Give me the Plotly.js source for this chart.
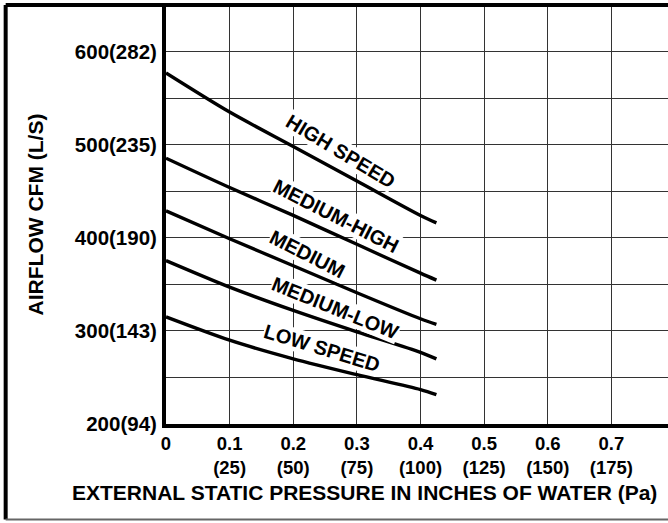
<!DOCTYPE html>
<html><head><meta charset="utf-8">
<script src="https://cdn.plot.ly/plotly-3.0.1.min.js"></script>
<style>html,body{margin:0;padding:0;background:#fff;overflow:hidden}</style>
</head><body><div id="chart" style="width:668px;height:523px"></div>
<script>
// Data
const pressure = [0, 0.1, 0.2, 0.3, 0.4, 0.425];
const highSpeed   = [577, 535, 498, 461, 424, 416];
const mediumHigh  = [485.5, 454, 424, 393, 362, 354.5];
const medium      = [429, 399, 370, 341, 313, 307];
const mediumLow   = [375.5, 347, 322, 299, 277, 270];
const lowSpeed    = [315, 290, 270, 253, 237, 231.5];
const seriesNames = ['HIGH SPEED', 'MEDIUM-HIGH', 'MEDIUM', 'MEDIUM-LOW', 'LOW SPEED'];

const yTickVals = [200, 300, 400, 500, 600];
const yTickText = ['200(94)', '300(143)', '400(190)', '500(235)', '600(282)'];
const xTickVals = [0, 0.1, 0.2, 0.3, 0.4, 0.5, 0.6, 0.7];
const xTickInches = ['0', '0.1', '0.2', '0.3', '0.4', '0.5', '0.6', '0.7'];
const xTickPa = ['', '(25)', '(50)', '(75)', '(100)', '(125)', '(150)', '(175)'];
const xTickText = xTickInches.map((t, i) => xTickPa[i] ? t + '<br>' + xTickPa[i] : t);

const allSeries = [highSpeed, mediumHigh, medium, mediumLow, lowSpeed];
const traces = allSeries.map((ys, i) => ({
  type: 'scatter', mode: 'lines', x: pressure, y: ys, name: seriesNames[i],
  line: {color: '#000', width: 3.4, shape: 'spline', smoothing: 0.8},
  hoverinfo: 'skip', showlegend: false
}));

const FONT = 'Liberation Sans, Arial, sans-serif';
const tickFont = {family: FONT, size: 20.5, color: '#000', weight: 'bold'};
const xTickFont = {family: FONT, size: 18.5, color: '#000', weight: 'bold'};
const labelFont = {family: FONT, size: 20, color: '#000', weight: 'bold'};
const gridColor = '#333';

const layout = {
  width: 668, height: 523,
  margin: {l: 165.5, r: 0, t: 5, b: 98.5},
  paper_bgcolor: '#fff', plot_bgcolor: '#fff',
  showlegend: false,
  xaxis: {
    range: [0, 0.789], tickvals: xTickVals, ticktext: xTickText,
    showgrid: true, gridcolor: gridColor, gridwidth: 1,
    showline: true, linecolor: '#000', linewidth: 4, zeroline: false,
    ticks: '', ticklabelstandoff: 0, tickfont: xTickFont,
    fixedrange: true
  },
  yaxis: {
    range: [200, 650], tickvals: yTickVals, ticktext: yTickText,
    showgrid: true, gridcolor: gridColor, gridwidth: 1,
    minor: {dtick: 50, tick0: 200, showgrid: true, gridcolor: gridColor, gridwidth: 1},
    showline: true, linecolor: '#000', linewidth: 4, zeroline: false,
    ticks: '', ticklabelstandoff: 1, tickfont: tickFont,
    title: {text: 'AIRFLOW CFM (L/S)', font: {family: FONT, size: 21, color: '#000', weight: 'bold'}, standoff: 26},
    fixedrange: true
  },
  shapes: [
    {type: 'line', xref: 'paper', yref: 'paper', x0: -0.3194, x1: -0.3194, y0: -0.2277, y1: 1.0, line: {color: '#000', width: 4}},
    {type: 'line', xref: 'paper', yref: 'paper', x0: -0.3194, x1: 1.05, y0: 1.0, y1: 1.0, line: {color: '#000', width: 4}},
    {type: 'line', xref: 'paper', yref: 'paper', x0: -0.3194, x1: 1.05, y0: -0.2277, y1: -0.2277, line: {color: '#666', width: 2}}
  ],
  annotations: [
    {text: 'HIGH SPEED', x: 0.274, y: 493, textangle: 31},
    {text: 'MEDIUM-HIGH', x: 0.267, y: 423, textangle: 27},
    {text: 'MEDIUM', x: 0.222, y: 383, textangle: 27},
    {text: 'MEDIUM-LOW', x: 0.266, y: 325, textangle: 22},
    {text: 'LOW SPEED', x: 0.245, y: 282, textangle: 17}
  ].map(a => Object.assign({xref: 'x', yref: 'y', showarrow: false, bgcolor: '#fff',
          borderpad: 0, font: labelFont}, a)).concat([
    {text: 'EXTERNAL STATIC PRESSURE IN INCHES OF WATER (Pa)', xref: 'paper', yref: 'paper',
     x: (364 - 165.5) / 502.5, y: (424.5 - 493) / 419.5, xanchor: 'center', yanchor: 'middle',
     showarrow: false, font: {family: FONT, size: 21, color: '#000', weight: 'bold'}}
  ])
};

Plotly.newPlot('chart', traces, layout, {staticPlot: true, displayModeBar: false});
</script></body></html>
